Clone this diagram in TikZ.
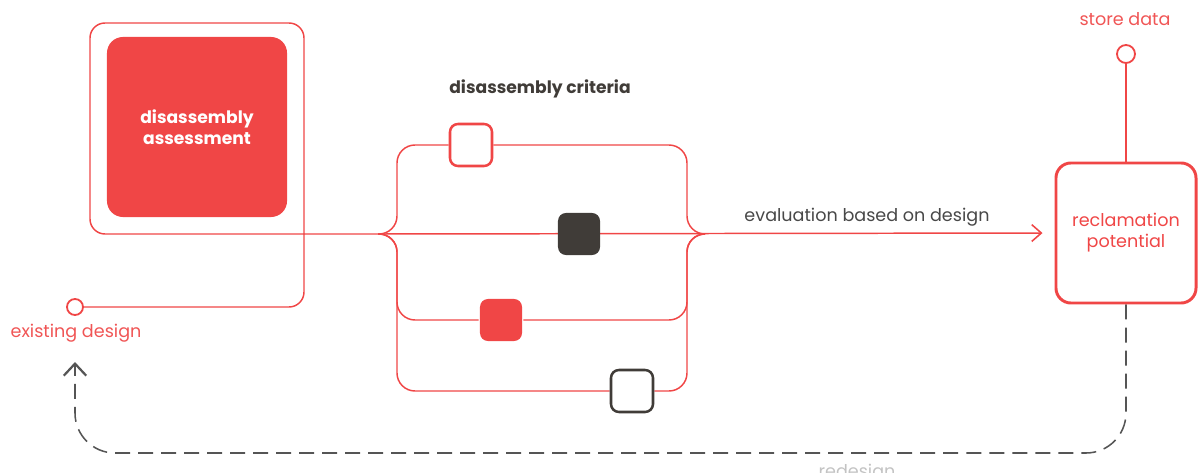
\documentclass[tikz,border=0pt]{standalone}
\usepackage{fontspec}
\setmainfont{Poppins}
\usepackage{tikz}
\usetikzlibrary{arrows.meta,positioning,backgrounds,calc}
\definecolor{brandred}{RGB}{240,70,70}
\definecolor{softred}{RGB}{240,85,85}
\definecolor{darkbrown}{RGB}{64,60,56}
\definecolor{loopgrey}{RGB}{85,85,85}
\definecolor{labelgrey}{RGB}{72,72,72}
\definecolor{palegrey}{RGB}{195,195,195}
\tikzset{
  base/.style={font=\fontsize{12.5}{15}\selectfont, align=center, inner sep=2pt},
  bold/.style={base, font=\fontsize{12.2}{15}\selectfont\bfseries},
  wire/.style={draw=brandred, line width=1.05pt, rounded corners=0.45cm},
  frame/.style={draw=brandred, line width=1.05pt, rounded corners=0.375cm},
  arr/.style={wire, -{Straight Barb[length=2.4mm,width=4.2mm,line width=1.1pt]}},
  loop/.style={draw=loopgrey, line width=1.1pt, dash pattern=on 0.375cm off 0.2cm, rounded corners=1cm,
    -{Straight Barb[length=3mm,width=5.6mm,line width=1.6pt]}},
  mainbox/.style={bold, rectangle, rounded corners=0.4cm, fill=brandred, text=white, minimum size=4.5cm},
  resultbox/.style={base, rectangle, rounded corners=0.375cm, draw=brandred, fill=white, line width=2.1pt, text=brandred, minimum size=3.5cm},
  sq/.style={rectangle, rounded corners=0.2cm, minimum size=1.05cm, inner sep=0pt, line width=1.8pt},
  sqopen/.style={sq, draw=#1, fill=white},
  sqfull/.style={sq, fill=#1},
  port/.style={circle, draw=brandred, fill=white, line width=1.3pt, minimum size=#1, inner sep=0pt},
  lbl/.style={base, text=softred},
}
\begin{document}
\begin{tikzpicture}[x=0.025cm,y=-0.025cm]
  \useasboundingbox (0,0) rectangle (1199,473);
  % boxes
  \node[mainbox] (assess) at (197,127) {disassembly\\assessment};
  \node[bold,text=darkbrown] (crit) at (540,89) {disassembly criteria};
  \node[sqopen=brandred] (c1) at (471,145) {};
  \node[sqfull=darkbrown] (c2) at (579,234) {};
  \node[sqfull=brandred] (c3) at (501,320) {};
  \node[sqopen=darkbrown] (c4) at (632,391) {};
  \node[resultbox] (reclaim) at (1126,233) {reclamation\\potential};
  \node[port=0.45cm] (store) at (1126,54) {};
  \node[lbl,anchor=base] (storelbl) at (1125,26) {store data};
  \node[port=0.4cm] (exist) at (75,307) {};
  \node[lbl,anchor=base] (existlbl) at (76,337) {existing design};
  \node[base,text=labelgrey,anchor=base] (evallbl) at (867,221) {evaluation based on design};
  \node[base,text=palegrey,anchor=base] (redesignlbl) at (857,477) {redesign};
  \coordinate (jl) at (378,234);
  \coordinate (bl) at (397,234);
  \coordinate (br) at (687,234);
  \coordinate (jr) at (705,234);
  \coordinate (back) at (75,362);
  % connectors
  \begin{scope}[on background layer]
    \draw[frame] (exist) -- (304,307) -- (304,23) -- (90,23) -- (90,234) -- (jl);
    \draw[arr,shorten >=12*0.025cm] (jl) -- (reclaim.west);
    \foreach \n in {c1,c3,c4}{
      \draw[wire] (jl) -- (bl) |- (\n.west);
      \draw[wire] (\n.east) -| (br) -- (jr);
    }
    \draw[wire] (store) -- (reclaim);
    \draw[loop] (reclaim.south) -- (1126,453) -| (back);
  \end{scope}
\end{tikzpicture}
\end{document}
